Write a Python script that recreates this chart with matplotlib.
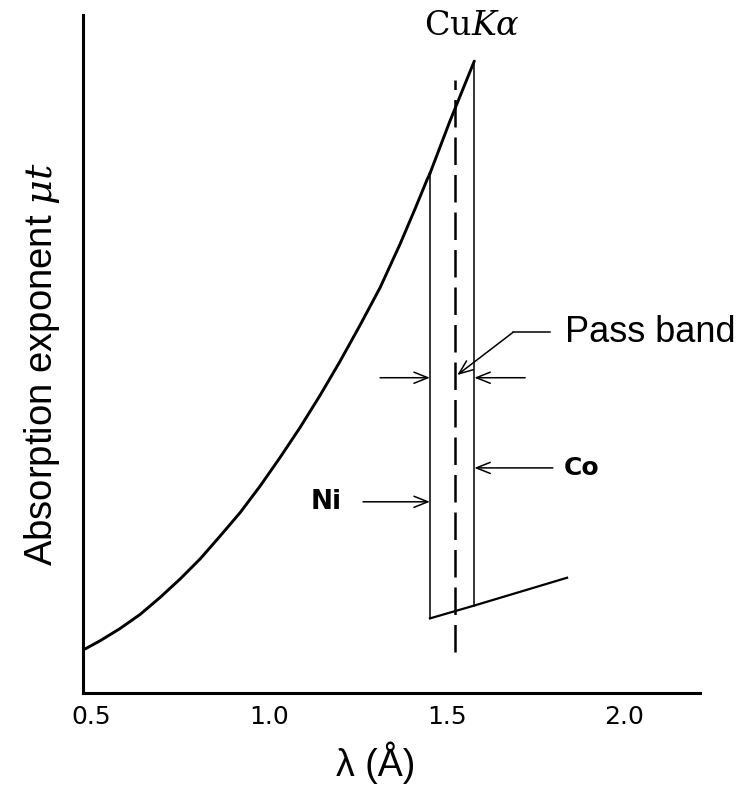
import matplotlib
matplotlib.use("Agg")
import matplotlib.pyplot as plt

# absorption curve below the Ni K edge (wavelength in Angstrom, mu*t arbitrary)
lam_curve = [0.483, 0.525, 0.581, 0.638, 0.694, 0.750, 0.807, 0.862, 0.919, 0.975,
             1.031, 1.087, 1.144, 1.200, 1.256, 1.313, 1.369, 1.412, 1.445, 1.453]
mu_curve = [0.65, 0.77, 0.95, 1.16, 1.41, 1.68, 1.98, 2.31, 2.66, 3.05,
            3.47, 3.91, 4.39, 4.89, 5.42, 5.98, 6.62, 7.15, 7.57, 7.66]

# same curve continued up to the Co K edge
lam_co = [1.453, 1.509, 1.578]
mu_co = [7.66, 8.43, 9.32]

# branch after the edge
lam_low = [1.453, 1.578, 1.839]
mu_low = [1.10, 1.29, 1.70]

ni_edge = 1.453
co_edge = 1.578
cu_ka = 1.524
ka_span = [0.60, 9.04]

xticks = [0.5, 1.0, 1.5, 2.0]
xtick_labels = ["0.5", "1.0", "1.5", "2.0"]

fig = plt.figure(figsize=(7.37, 7.94), dpi=100)
ax = fig.add_axes([83 / 737, 1 - 693 / 794, 617 / 737, 678 / 794])

ax.plot(lam_curve, mu_curve, color="black", lw=2.1, solid_capstyle="round",
        solid_joinstyle="round")
ax.plot(lam_co, mu_co, color="black", lw=2.1, solid_capstyle="round",
        solid_joinstyle="round")
ax.plot(lam_low, mu_low, color="black", lw=1.6)
ax.plot([ni_edge, ni_edge], [mu_curve[-1], mu_low[0]], color="black", lw=1.1)
ax.plot([co_edge, co_edge], [mu_co[-1], mu_low[1]], color="black", lw=1.1)
ax.plot([cu_ka, cu_ka], ka_span, color="black", lw=1.8, dashes=(11, 4))

ax.set_xlim(0.477, 2.213)
ax.set_ylim(0, 10)
ax.spines["top"].set_visible(False)
ax.spines["right"].set_visible(False)
ax.spines["left"].set_linewidth(2.2)
ax.spines["bottom"].set_linewidth(2.2)
ax.set_yticks([])
ax.set_xticks(xticks)
ax.set_xticklabels(xtick_labels, fontsize=18, family="DejaVu Sans")
ax.tick_params(axis="x", length=0, pad=9)

ax.set_xlabel("λ (Å)", fontsize=27, family="Liberation Sans")
ax.xaxis.set_label_coords(0.475, -0.072)
ax.set_ylabel(r"Absorption exponent $\mu t$", fontsize=27.5, family="Liberation Sans",
              math_fontfamily="dejavuserif")
ax.yaxis.set_label_coords(-0.034, 0.485)

ax.text(1.571, 9.84, r"Cu$K\alpha$", fontsize=24, family="DejaVu Serif",
        math_fontfamily="dejavuserif", ha="center", va="center")

arrow = dict(arrowstyle="->,head_length=0.5,head_width=0.2", color="black",
             lw=1.1, mutation_scale=20, shrinkA=0, shrinkB=0)

# filter labels
ax.annotate("", xy=(ni_edge, 2.82), xytext=(1.265, 2.82), arrowprops=arrow)
ax.text(1.161, 2.81, "Ni", fontsize=19, fontweight="bold", ha="center", va="center")
ax.annotate("", xy=(co_edge, 3.32), xytext=(1.799, 3.32), arrowprops=arrow)
ax.text(1.881, 3.32, "Co", fontsize=18, fontweight="bold", ha="center", va="center")

# pass band markers
ax.annotate("", xy=(ni_edge, 4.65), xytext=(1.313, 4.65), arrowprops=arrow)
ax.annotate("", xy=(co_edge, 4.65), xytext=(1.721, 4.65), arrowprops=arrow)
ax.plot([1.791, 1.687], [5.32, 5.32], color="black", lw=1.1)
ax.annotate("", xy=(1.530, 4.69), xytext=(1.687, 5.32), arrowprops=arrow)
ax.text(1.833, 5.32, "Pass band", fontsize=26, family="Liberation Sans",
        ha="left", va="center")

fig.savefig("out.png", dpi=100)
